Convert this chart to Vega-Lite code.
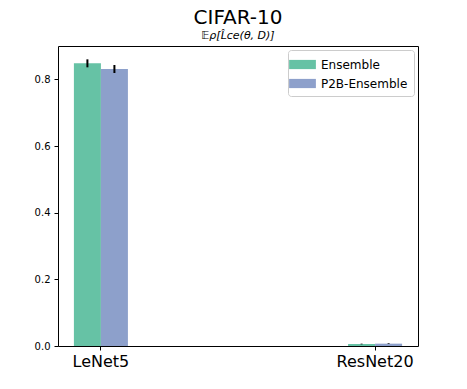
{
  "$schema": "https://vega.github.io/schema/vega-lite/v6.json",
  "autosize": "none",
  "width": 360,
  "height": 300,
  "padding": {"left": 58, "top": 46, "right": 49, "bottom": 43},
  "background": "white",
  "title": {
    "text": "CIFAR-10",
    "subtitle": "𝔼ρ[L̂ce(θ, D)]",
    "fontSize": 20,
    "fontWeight": "normal",
    "font": "DejaVu Sans",
    "subtitleFont": "DejaVu Sans",
    "subtitleFontSize": 11,
    "subtitleFontStyle": "italic",
    "subtitleColor": "black",
    "subtitlePadding": 2,
    "color": "black",
    "anchor": "middle",
    "offset": 5
  },
  "config": {
    "view": {"stroke": "black", "strokeWidth": 1},
    "font": "DejaVu Sans"
  },
  "data": {
    "values": [
      {"model": "LeNet5", "method": "Ensemble", "mean": 0.848, "lo": 0.836, "hi": 0.86},
      {"model": "LeNet5", "method": "P2B-Ensemble", "mean": 0.831, "lo": 0.819, "hi": 0.843},
      {"model": "ResNet20", "method": "Ensemble", "mean": 0.006, "lo": 0.005, "hi": 0.007},
      {"model": "ResNet20", "method": "P2B-Ensemble", "mean": 0.007, "lo": 0.006, "hi": 0.008}
    ]
  },
  "encoding": {
    "x": {
      "field": "model",
      "type": "nominal",
      "scale": {"paddingInner": 0.803, "paddingOuter": 0.058},
      "axis": {
        "title": null,
        "labelAngle": 0,
        "labelFontSize": 16,
        "labelColor": "black",
        "tickColor": "black",
        "tickSize": 4,
        "domain": false,
        "labelPadding": 3
      }
    },
    "xOffset": {"field": "method", "type": "nominal"}
  },
  "layer": [
    {
      "mark": {"type": "bar"},
      "encoding": {
        "y": {
          "field": "mean",
          "type": "quantitative",
          "scale": {"domain": [0, 0.9], "nice": false},
          "axis": {
            "title": null,
            "values": [0, 0.2, 0.4, 0.6, 0.8],
            "format": ".1f",
            "grid": false,
            "domain": false,
            "labelFontSize": 10,
            "labelColor": "black",
            "tickColor": "black",
            "tickSize": 4,
            "labelPadding": 4
          }
        },
        "color": {
          "field": "method",
          "type": "nominal",
          "scale": {"domain": ["Ensemble", "P2B-Ensemble"], "range": ["#66c2a5", "#8da0cb"]},
          "legend": {
            "title": null,
            "orient": "top-right",
            "offset": 4,
            "labelFontSize": 12,
            "labelColor": "black",
            "symbolType": "M-1.6,-0.55H1.6V0.55H-1.6Z",
            "symbolSize": 280,
            "symbolStrokeWidth": 0,
            "symbolOpacity": 1,
            "fillColor": "white",
            "strokeColor": "#cccccc",
            "cornerRadius": 3,
            "padding": 6,
            "rowPadding": 4,
            "labelOffset": 10
          }
        }
      }
    },
    {
      "mark": {"type": "rule", "color": "black", "strokeWidth": 2},
      "encoding": {
        "y": {"field": "lo", "type": "quantitative"},
        "y2": {"field": "hi"}
      }
    }
  ]
}
